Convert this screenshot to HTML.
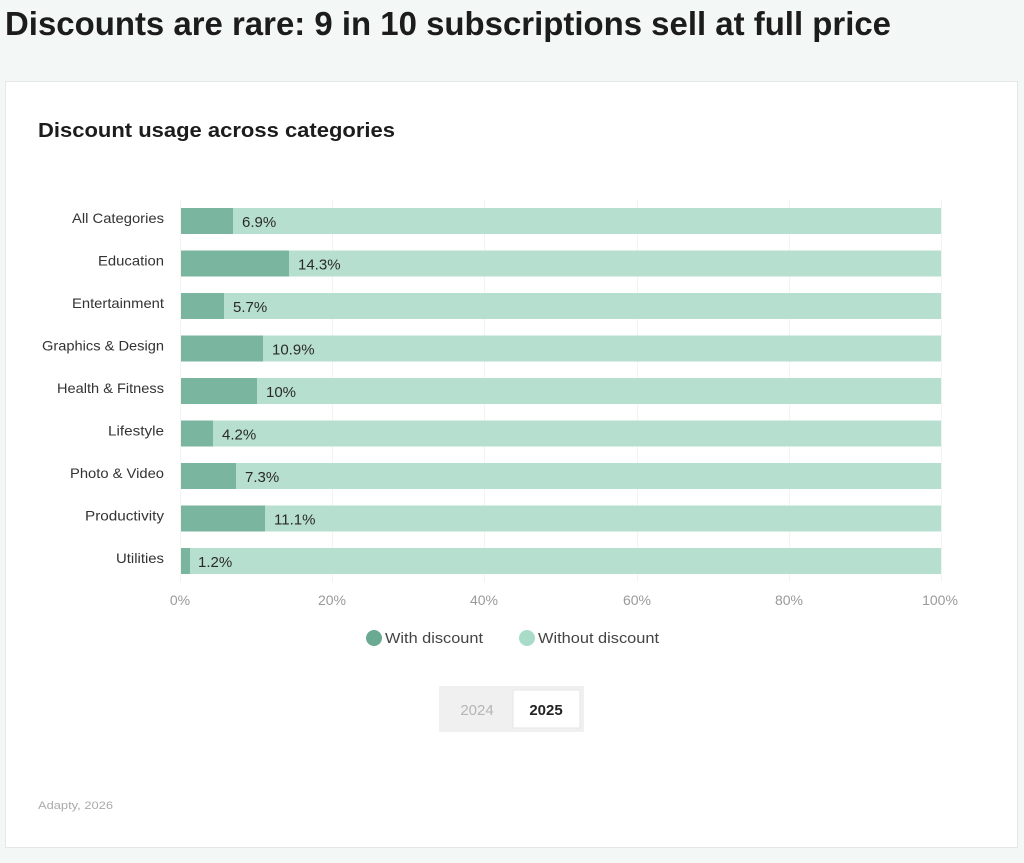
<!DOCTYPE html>
<html><head><meta charset="utf-8"><style>
html,body{margin:0;padding:0;background:#f3f8f6;}
svg{display:block;font-family:"Liberation Sans",sans-serif;}
</style></head><body>
<svg width="1024" height="863" viewBox="0 0 1024 863" xmlns="http://www.w3.org/2000/svg">
<rect width="1024" height="863" fill="#f3f8f6"/>
<text x="5" y="35" font-size="33" font-weight="bold" fill="#1c1c1c" textLength="886" lengthAdjust="spacingAndGlyphs">Discounts are rare: 9 in 10 subscriptions sell at full price</text>
<rect x="5.5" y="81.5" width="1012" height="766" fill="#fff" stroke="#e3e8e6"/>
<text x="38" y="137" font-size="20" font-weight="bold" fill="#1c1c1c" textLength="357" lengthAdjust="spacingAndGlyphs">Discount usage across categories</text>
<g stroke="#f3f3f3" stroke-width="1">
<line x1="180.5" y1="200" x2="180.5" y2="582"/><line x1="332.5" y1="200" x2="332.5" y2="582"/>
<line x1="484.5" y1="200" x2="484.5" y2="582"/><line x1="637.5" y1="200" x2="637.5" y2="582"/>
<line x1="789.5" y1="200" x2="789.5" y2="582"/><line x1="941.5" y1="200" x2="941.5" y2="582"/>
</g>
<g font-size="14" fill="#333" text-anchor="end">
<text x="164" y="223" textLength="92" lengthAdjust="spacingAndGlyphs">All Categories</text>
<text x="164" y="265.5" textLength="66" lengthAdjust="spacingAndGlyphs">Education</text>
<text x="164" y="308" textLength="92" lengthAdjust="spacingAndGlyphs">Entertainment</text>
<text x="164" y="350.5" textLength="122" lengthAdjust="spacingAndGlyphs">Graphics &amp; Design</text>
<text x="164" y="393" textLength="107" lengthAdjust="spacingAndGlyphs">Health &amp; Fitness</text>
<text x="164" y="435.5" textLength="56" lengthAdjust="spacingAndGlyphs">Lifestyle</text>
<text x="164" y="478" textLength="94" lengthAdjust="spacingAndGlyphs">Photo &amp; Video</text>
<text x="164" y="520.5" textLength="79" lengthAdjust="spacingAndGlyphs">Productivity</text>
<text x="164" y="563" textLength="48" lengthAdjust="spacingAndGlyphs">Utilities</text>
</g>
<g>
<rect x="181" y="208" width="760" height="26" fill="#b7dfd0"/><rect x="181" y="208" width="52" height="26" fill="#7ab5a0"/>
<rect x="181" y="250.5" width="760" height="26" fill="#b7dfd0"/><rect x="181" y="250.5" width="108" height="26" fill="#7ab5a0"/>
<rect x="181" y="293" width="760" height="26" fill="#b7dfd0"/><rect x="181" y="293" width="43" height="26" fill="#7ab5a0"/>
<rect x="181" y="335.5" width="760" height="26" fill="#b7dfd0"/><rect x="181" y="335.5" width="82" height="26" fill="#7ab5a0"/>
<rect x="181" y="378" width="760" height="26" fill="#b7dfd0"/><rect x="181" y="378" width="76" height="26" fill="#7ab5a0"/>
<rect x="181" y="420.5" width="760" height="26" fill="#b7dfd0"/><rect x="181" y="420.5" width="32" height="26" fill="#7ab5a0"/>
<rect x="181" y="463" width="760" height="26" fill="#b7dfd0"/><rect x="181" y="463" width="55" height="26" fill="#7ab5a0"/>
<rect x="181" y="505.5" width="760" height="26" fill="#b7dfd0"/><rect x="181" y="505.5" width="84" height="26" fill="#7ab5a0"/>
<rect x="181" y="548" width="760" height="26" fill="#b7dfd0"/><rect x="181" y="548" width="9" height="26" fill="#7ab5a0"/>
</g>
<g font-size="15" fill="#2a2a2a">
<text x="242" y="227">6.9%</text>
<text x="298" y="269.5">14.3%</text>
<text x="233" y="312">5.7%</text>
<text x="272" y="354.5">10.9%</text>
<text x="266" y="397">10%</text>
<text x="222" y="439.5">4.2%</text>
<text x="245" y="482">7.3%</text>
<text x="274" y="524.5">11.1%</text>
<text x="198" y="567">1.2%</text>
</g>
<g font-size="14" fill="#999" text-anchor="middle">
<text x="180" y="605">0%</text><text x="332" y="605">20%</text><text x="484" y="605">40%</text>
<text x="637" y="605">60%</text><text x="789" y="605">80%</text><text x="940" y="605">100%</text>
</g>
<circle cx="374" cy="638" r="8" fill="#6aaa92"/>
<text x="385" y="643" font-size="15" fill="#444" textLength="98" lengthAdjust="spacingAndGlyphs">With discount</text>
<circle cx="527" cy="638" r="8" fill="#a8dcc9"/>
<text x="538" y="643" font-size="15" fill="#444" textLength="121" lengthAdjust="spacingAndGlyphs">Without discount</text>
<rect x="439" y="686" width="145" height="46" fill="#f0f0f0"/>
<rect x="513" y="690" width="67" height="38" fill="#fff" stroke="#e6e6e6"/>
<text x="477" y="715" font-size="15" fill="#b5b5b5" text-anchor="middle">2024</text>
<text x="546" y="715" font-size="15" font-weight="bold" fill="#222" text-anchor="middle">2025</text>
<text x="38" y="809" font-size="11" fill="#aaa" textLength="75" lengthAdjust="spacingAndGlyphs">Adapty, 2026</text>
</svg>
</body></html>
